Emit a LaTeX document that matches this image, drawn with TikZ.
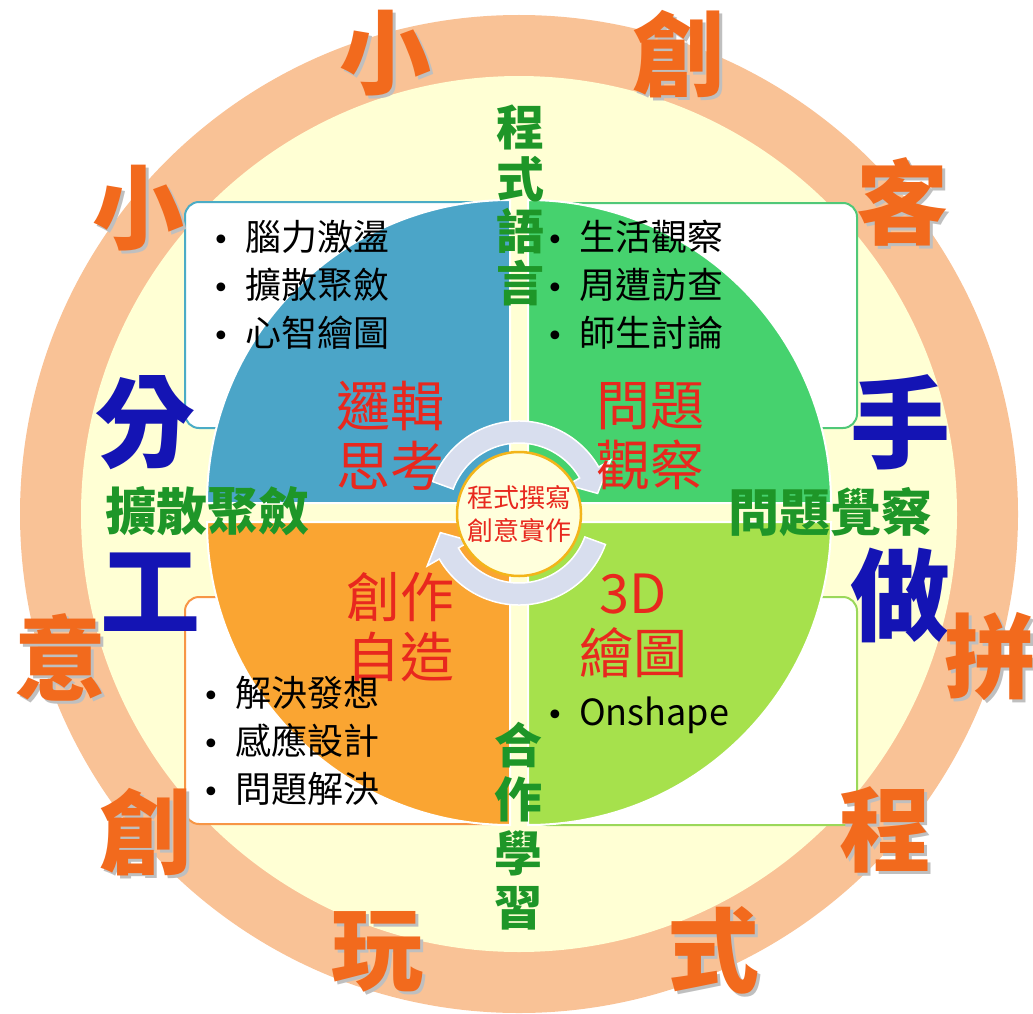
\documentclass[tikz,border=0pt]{standalone}
\usepackage{fontspec}
\setmainfont{Noto Sans CJK TC}
\newfontfamily\dotfont{DejaVu Sans}
\usepackage{xcolor}
\definecolor{colorRing}{HTML}{F9C296}
\definecolor{colorInner}{HTML}{FFFFD4}
\definecolor{colorLogic}{HTML}{4BA5C8}
\definecolor{colorObserve}{HTML}{46D26E}
\definecolor{colorMake}{HTML}{FAA532}
\definecolor{colorDraw}{HTML}{A6E14C}
\definecolor{colorLogicLine}{HTML}{4BACC6}
\definecolor{colorObserveLine}{HTML}{50C878}
\definecolor{colorMakeLine}{HTML}{F79646}
\definecolor{colorDrawLine}{HTML}{9BD85A}
\definecolor{colorCycle}{HTML}{D8DEEE}
\definecolor{colorHub}{HTML}{FFFFDC}
\definecolor{colorHubLine}{HTML}{F3B51A}
\definecolor{colorTitle}{HTML}{E8281E}
\definecolor{colorSkill}{HTML}{1E9628}
\definecolor{colorHand}{HTML}{1414B4}
\definecolor{colorMotto}{HTML}{F26A1D}
\usepackage{tikz}
\newcommand\fsize[2]{\fontsize{#1}{#2}\selectfont}
\newcommand\bulletline[1]{\makebox[33pt][l]{\dotfont\fsize{30}{48}•}#1}
\tikzset{
  listbox/.style={fill=white, line width=2pt, rounded corners=14pt},
  quarter/.style={draw=white, line width=2pt},
  cyclearrow/.style={fill=colorCycle, draw=white, line width=1.5pt},
  motto/.style={text=colorMotto, font=\fsize{92}{92}\bfseries, inner sep=0pt},
  mottoshade/.style={motto, text=black!25, xshift=3pt, yshift=-3pt},
  hand/.style={text=colorHand, font=\fsize{100}{100}\bfseries, inner sep=0pt},
  stagetitle/.style={text=colorTitle, font=\fsize{54}{60}, align=center, inner sep=0pt},
  skill/.style={text=colorSkill, font=\fsize{48}{52}\bfseries, align=center, inner sep=0pt},
  bullets/.style={anchor=west, font=\fsize{36}{48}, align=left, inner sep=0pt}
}

\begin{document}
\begin{tikzpicture}[x=1pt, y=-1pt]
\useasboundingbox (0,0) rectangle (1033,1014);
\fill[colorRing] (519,514) circle[radius=499];
\fill[colorInner] (519,514) circle[radius=438];

\draw[listbox, draw=colorLogicLine] (185,202) rectangle (505,428);
\draw[listbox, draw=colorObserveLine] (533,203) rectangle (857,428);
\draw[listbox, draw=colorMakeLine] (185,597) rectangle (505,824);
\draw[listbox, draw=colorDrawLine] (533,597) rectangle (857,825);

\filldraw[quarter, fill=colorLogic] (510,503) -- ++(-303,0) arc[start angle=180, end angle=270, radius=303] -- cycle;
\filldraw[quarter, fill=colorObserve] (528,503) -- ++(303,0) arc[start angle=0, end angle=-90, radius=303] -- cycle;
\filldraw[quarter, fill=colorMake] (510,522) -- ++(-303,0) arc[start angle=180, end angle=90, radius=303] -- cycle;
\filldraw[quarter, fill=colorDraw] (528,522) -- ++(303,0) arc[start angle=0, end angle=90, radius=303] -- cycle;

\begin{scope}[shift={(519,513)}]
\filldraw[cyclearrow] (200:92) arc[start angle=200, end angle=330, radius=92] -- (330:106) -- (346:81) -- (330:56) -- (330:70) arc[start angle=330, end angle=200, radius=70] -- cycle;
\filldraw[cyclearrow] (20:92) arc[start angle=20, end angle=150, radius=92] -- (150:106) -- (166:81) -- (150:56) -- (150:70) arc[start angle=150, end angle=20, radius=70] -- cycle;
\end{scope}
\node[circle, minimum size=124pt, fill=colorHub, draw=colorHubLine, line width=2.5pt, text=colorTitle, font=\fsize{26}{33}, align=center, inner sep=0pt] (hub) at (519,514) {程式撰寫\\創意實作};

\node[stagetitle] (logic) at (390,436) {邏輯\\思考};
\node[stagetitle] (observe) at (650,436) {問題\\觀察};
\node[stagetitle] (make) at (400,627) {創作\\自造};
\node[stagetitle] (model) at (633,626) {3D\\繪圖};

\node[bullets] (logiclist) at (212,285) {\bulletline{腦力激盪}\\\bulletline{擴散聚斂}\\\bulletline{心智繪圖}};
\node[bullets] (observelist) at (546,285) {\bulletline{生活觀察}\\\bulletline{周遭訪查}\\\bulletline{師生討論}};
\node[bullets] (makelist) at (202,741) {\bulletline{解決發想}\\\bulletline{感應設計}\\\bulletline{問題解決}};
\node[bullets] (modellist) at (546,715) {\bulletline{Onshape}};

\node[skill] (lang) at (520,205) {程\\式\\語\\言};
\node[skill, font=\fsize{48}{54}\bfseries] (team) at (518,826) {合\\作\\學\\習};
\node[skill, font=\fsize{51}{52}\bfseries] (diverge) at (207,511) {擴散聚斂};
\node[skill, font=\fsize{51}{52}\bfseries] (aware) at (830,512) {問題覺察};

\node[hand] (fen) at (145,423) {分};
\node[hand] (gong) at (150,592) {工};
\node[hand] (shou) at (900,422) {手};
\node[hand] (zuo) at (900,595) {做};

\foreach \x/\y/\c [count=\i] in {138/208/小, 385/53/小, 678/54/創, 902/202/客, 990/657/拼, 885/830/程, 713/950/式, 377/952/玩, 145/832/創, 60/657/意}
  {\node[mottoshade] (shade\i) at (\x,\y) {\c};
   \node[motto] (motto\i) at (\x,\y) {\c};}
\end{tikzpicture}
\end{document}
